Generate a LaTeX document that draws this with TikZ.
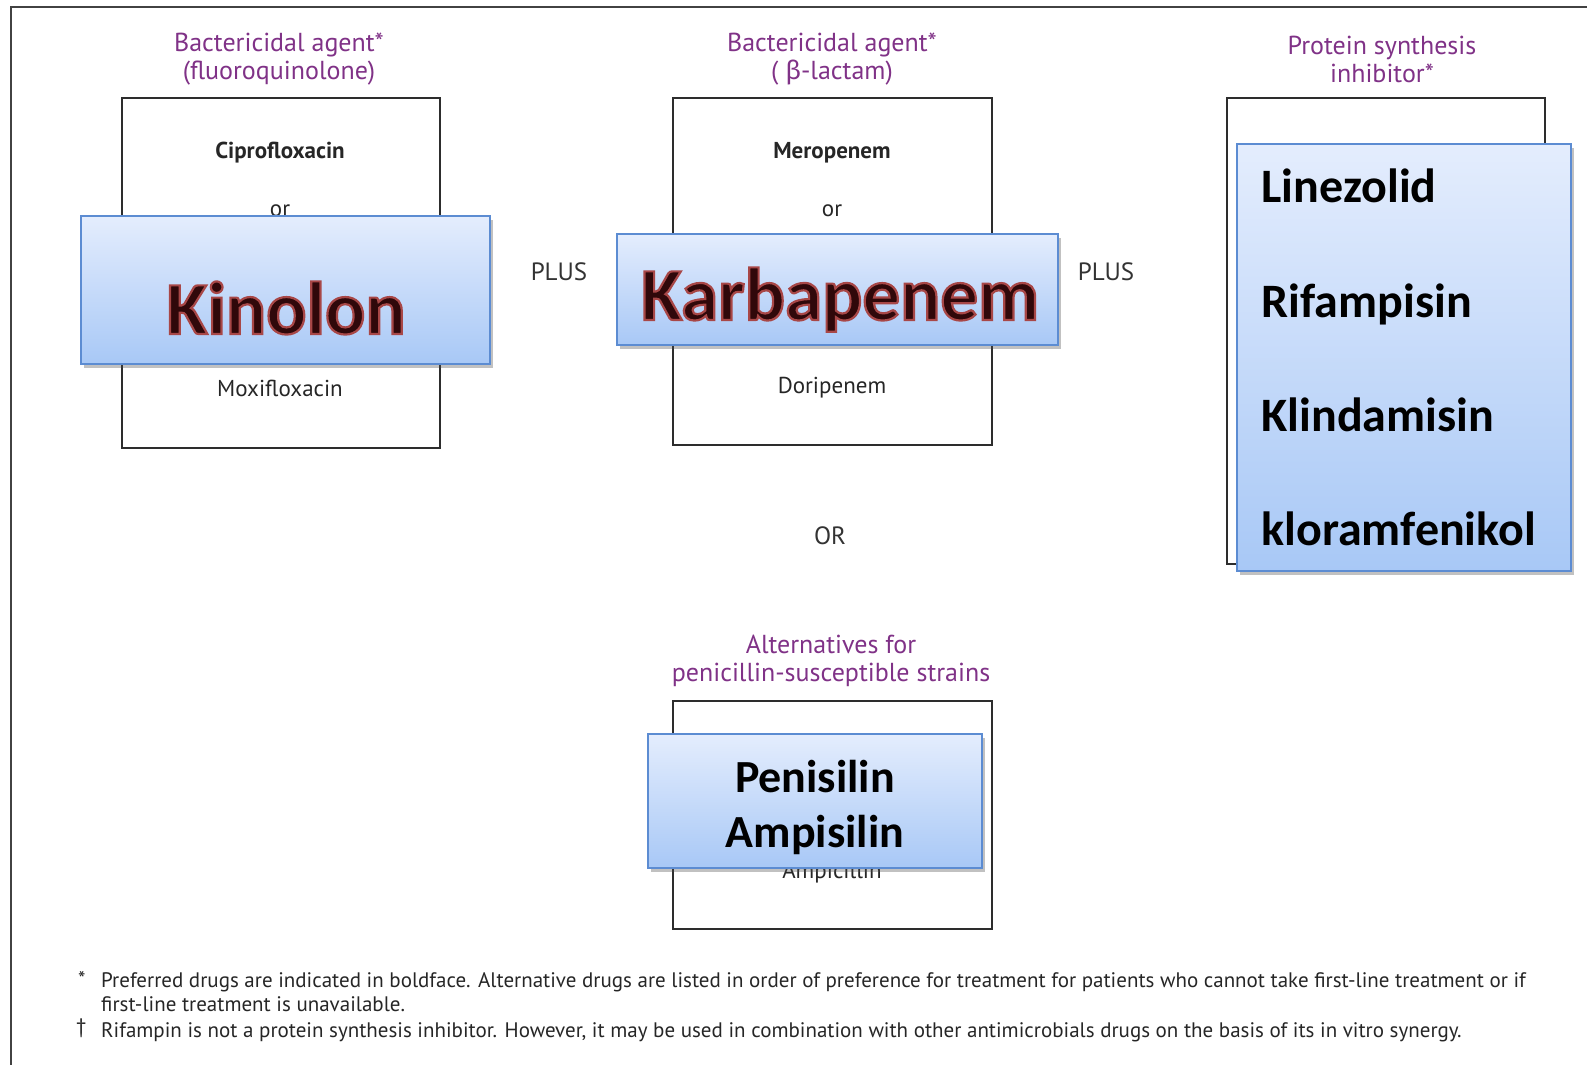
\documentclass[tikz,border=0pt]{standalone}
\usepackage{fontspec}
\setmainfont{PT Sans}
\newfontfamily\calibri{Carlito}
\newfontfamily\grk{Fira Sans}
\usetikzlibrary{shadows}

\definecolor{titlepurple}{RGB}{128,50,135}
\definecolor{framegray}{RGB}{45,45,45}
\definecolor{boxtop}{RGB}{228,237,253}
\definecolor{boxbottom}{RGB}{168,200,246}
\definecolor{boxedge}{RGB}{92,140,210}
\definecolor{drugdark}{RGB}{48,8,10}

\tikzset{
  frame/.style={draw=framegray, line width=2.5pt, inner sep=0pt},
  title/.style={text=titlepurple, font=\fontsize{26}{28}\selectfont, align=center},
  drug/.style={text=black!85, font=\fontsize{23}{26}\selectfont},
  joiner/.style={text=black!80, font=\fontsize{25}{28}\selectfont},
  bluebox/.style={draw=boxedge, line width=1.5pt, top color=boxtop, bottom color=boxbottom,
    inner sep=0pt, drop shadow={shadow xshift=3pt, shadow yshift=-4pt, opacity=0.35, fill=black!70}},
  bigname/.style={text=drugdark, font=\calibri\bfseries\fontsize{75}{80}\selectfont, anchor=base},
  listname/.style={text=black, font=\calibri\bfseries\fontsize{48}{52}\selectfont, anchor=base west},
  note/.style={text=black!85, font=\fontsize{21}{24}\selectfont, anchor=base west, inner sep=0pt}
}

% letters filled dark with a reddish rim
\newcommand{\rimtext}[1]{%
  \special{pdf:literal direct 2 Tr 2.2 w 0.66 0.28 0.28 RG}#1\special{pdf:literal direct 0 Tr}}

\begin{document}
\begin{tikzpicture}[x=1pt, y=-1pt]
    \useasboundingbox (0,0) rectangle (1587,1065);

    % Outer frame
    \draw[framegray!90, line width=2.5pt] (1587,7) -- (11,7) -- (11,1065);

    % Group titles
    \node[title] (tfq) at (279,59) {Bactericidal agent*\\(fluoroquinolone)};
    \node[title] (tbl) at (832,59) {Bactericidal agent*\\( {\grk β}-lactam)};
    \node[title] (tps) at (1382,59) {Protein synthesis\\inhibitor*};
    \node[title] (tpen) at (831,661) {Alternatives for\\penicillin-susceptible strains};

    % Drug frames
    \node[frame, minimum width=318pt, minimum height=350pt] (ffq) at (281,273) {};
    \node[frame, minimum width=319pt, minimum height=347pt] (fbl) at (832.5,271.5) {};
    \node[frame, minimum width=318pt, minimum height=466pt] (fps) at (1386,331) {};
    \node[frame, minimum width=319pt, minimum height=228pt] (fpen) at (832.5,815) {};

    % Drugs inside the frames
    \node[drug, font=\bfseries\fontsize{23}{26}\selectfont] (cipro) at (280,153) {Ciprofloxacin};
    \node[drug] (orfq) at (280,211) {or};
    \node[drug] (moxi) at (280,388) {Moxifloxacin};
    \node[drug, font=\bfseries\fontsize{23}{26}\selectfont] (mero) at (832,153) {Meropenem};
    \node[drug] (orbl) at (832,211) {or};
    \node[drug] (dori) at (832,388) {Doripenem};
    \node[drug] (ampi) at (832,873) {Ampicillin};

    % Joining words
    \node[joiner] (plusA) at (559,272) {PLUS};
    \node[joiner] (plusB) at (1106,272) {PLUS};
    \node[joiner] (orC) at (830,536) {OR};

    % Blue overlay boxes
    \node[bluebox, minimum width=409pt, minimum height=148pt] (bfq) at (285.5,290) {};
    \node[bluebox, minimum width=441pt, minimum height=111pt] (bbl) at (837.5,289.5) {};
    \node[bluebox, minimum width=334pt, minimum height=427pt] (bps) at (1404,357.5) {};
    \node[bluebox, minimum width=334pt, minimum height=134pt] (bpen) at (815,801) {};

    % Overlay labels
    \node[bigname] (kinolon) at (286,334) {\rimtext{Kinolon}};
    \node[bigname] (karba) at (840,320) {\rimtext{Karbapenem}};

    \node[listname] (linez) at (1258,202) {Linezolid};
    \node[listname] (rifam) at (1258,317) {Rifampisin};
    \node[listname] (klind) at (1258,431) {Klindamisin};
    \node[listname] (klora) at (1258,545) {kloramfenikol};

    \node[font=\calibri\bfseries\fontsize{46}{55}\selectfont, align=center] (penam) at (815,807) {Penisilin\\Ampisilin};

    % Footnotes
    \node[note] (star) at (78,986) {*};
    \node[note] (dag) at (76,1033) {†};
    \node[note] (n1) at (101,987) {Preferred drugs are indicated in boldface. Alternative drugs are listed in order of preference for treatment for patients who cannot take first-line treatment or if};
    \node[note] (n2) at (101,1011) {first-line treatment is unavailable.};
    \node[note] (n3) at (101,1037) {Rifampin is not a protein synthesis inhibitor. However, it may be used in combination with other antimicrobials drugs on the basis of its in vitro synergy.};
\end{tikzpicture}
\end{document}
